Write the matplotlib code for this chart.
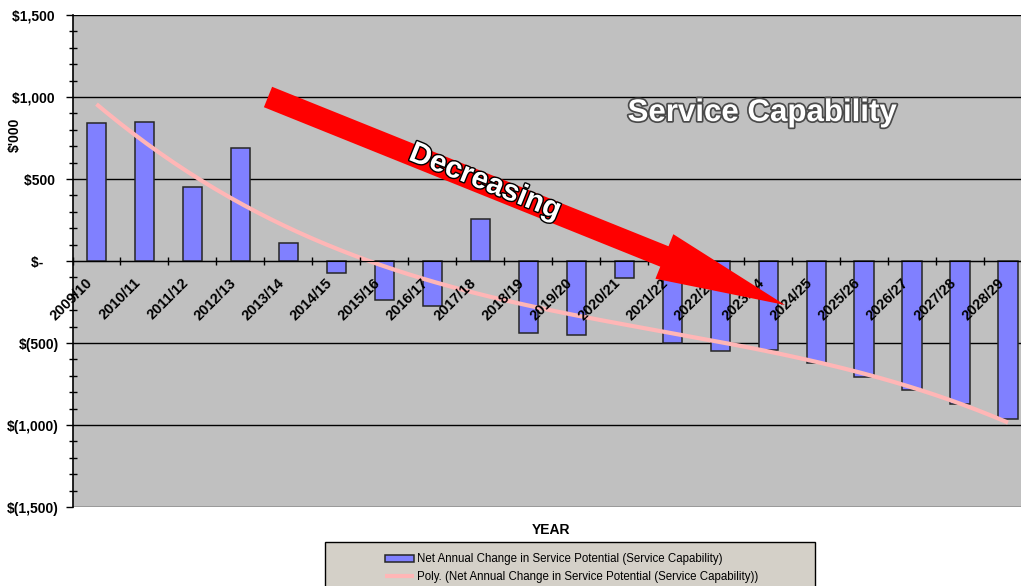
import matplotlib
matplotlib.use("Agg")
import matplotlib.pyplot as plt
import matplotlib.patheffects as pe
import matplotlib.transforms as mtrans
from matplotlib.patches import FancyArrow, Rectangle
import numpy as np

plt.rcParams["font.family"] = ["Liberation Sans", "DejaVu Sans"]

# ----------------------------------------
# Data ($'000)
years = ["2009/10", "2010/11", "2011/12", "2012/13", "2013/14", "2014/15", "2015/16",
         "2016/17", "2017/18", "2018/19", "2019/20", "2020/21", "2021/22", "2022/23",
         "2023/24", "2024/25", "2025/26", "2026/27", "2027/28", "2028/29"]
net_change = [842, 850, 452, 690, 110, -73, -238, -275, 256, -439,
              -451, -104, -500, -549, -543, -622, -708, -787, -872, -964]
ytick_vals = [-1500, -1000, -500, 0, 500, 1000, 1500]
# accounting style: positives leave room for the closing bracket
ytick_labels = ["$(1,500)", "$(1,000)", "$(500)", "$-    ", "$500 ", "$1,000 ", "$1,500 "]
series_name = "Net Annual Change in Service Potential (Service Capability)"
trend_name = "Poly. (Net Annual Change in Service Potential (Service Capability))"

W, H = 1021, 586
fig = plt.figure(figsize=(W / 100, H / 100), dpi=100)

# plot area (pixel box -> figure fraction), runs off the right edge like the original
x0, x1, y0, y1 = 72.5, 1032, 15, 507
ax = fig.add_axes([x0 / W, 1 - y1 / H, (x1 - x0) / W, (y1 - y0) / H])
ax.set_facecolor("#C0C0C0")
ax.set_axisbelow(False)  # tick labels sit on top of the bars

for v in ytick_vals:
    ax.axhline(v, color="black", lw=1, zorder=1)

x = np.arange(len(years))
bars = ax.bar(x, net_change, width=0.4, color="#8080FF", edgecolor="#262626",
              linewidth=1.1, zorder=2)

# Excel-like polynomial trendline
coef = np.polyfit(x, net_change, 3)
xs = np.linspace(x[0], x[-1], 200)
trend, = ax.plot(xs, np.polyval(coef, xs), color="#FFB6B6", lw=3, zorder=2.2,
                 solid_capstyle="butt")

ax.set_xlim(-0.5, len(years) - 0.5)
ax.set_ylim(-1500, 1500)

ax.set_yticks(ytick_vals)
ax.set_yticklabels(ytick_labels, fontsize=10, fontweight="bold")
ax.set_yticks(np.arange(-1500, 1501, 100), minor=True)
ax.tick_params(axis="y", which="major", direction="out", length=5, width=1, pad=5)
ax.tick_params(axis="y", which="minor", direction="inout", length=6, width=1)

ax.spines["bottom"].set_position(("data", 0))
ax.spines["top"].set_visible(False)
ax.spines["right"].set_visible(False)
ax.spines["left"].set_linewidth(1.2)

ax.set_xticks(x)
ax.set_xticklabels(years, rotation=45, ha="right", rotation_mode="anchor",
                   fontsize=10.5, fontweight="bold")
ax.set_xticks(np.arange(-0.5, len(years), 1), minor=True)
ax.tick_params(axis="x", which="major", length=0, pad=4)
ax.tick_params(axis="x", which="minor", direction="inout", length=6, width=1)

# nudge the slanted year labels down-left (after tick_params, which resets transforms)
shift = mtrans.ScaledTranslation(-0.11, -0.09, fig.dpi_scale_trans)
for lab in ax.get_xticklabels():
    lab.set_transform(lab.get_transform() + shift)

fig.text(15 / W, 1 - 135 / H, "$'000", rotation=90, ha="center", va="center",
         fontsize=10, fontweight="bold")
fig.text(551 / W, 1 - 530 / H, "YEAR", ha="center", va="center",
         fontsize=10, fontweight="bold")

# legend box
box = Rectangle((325 / W, -0.05), (815 - 325) / W, (586 - 542) / H + 0.05,
                transform=fig.transFigure, facecolor="#D4D0C8", edgecolor="black",
                lw=1, zorder=2)
fig.patches.append(box)
leg = fig.legend([bars, trend], [series_name, trend_name], loc="upper left",
                 bbox_to_anchor=(375 / W, 1 - 543 / H), frameon=False, fontsize=8.3,
                 handlelength=2.5, handleheight=0.6, handletextpad=0.2, labelspacing=0.45)
leg.set_zorder(3)

# big red arrow
arrow = FancyArrow(2.68, (H - 97) / 100, 5.17, -2.08, width=0.22, head_width=0.48,
                   head_length=1.3, length_includes_head=True, color="#FF0000",
                   lw=0, transform=fig.dpi_scale_trans, zorder=5)
fig.patches.append(arrow)

fig.text(485 / W, 1 - 182 / H, "Decreasing", rotation=-21.9, ha="center", va="center",
         rotation_mode="anchor", fontsize=21.5, fontweight="bold", color="white", zorder=6,
         path_effects=[pe.withStroke(linewidth=2, foreground="black")])
fig.text(762 / W, 1 - 113 / H, "Service Capability", ha="center", va="center",
         fontsize=22.5, fontweight="bold", color="white", zorder=6,
         path_effects=[pe.withStroke(linewidth=2.5, foreground="#4a4a4a")])

fig.savefig("out.png", dpi=100)
